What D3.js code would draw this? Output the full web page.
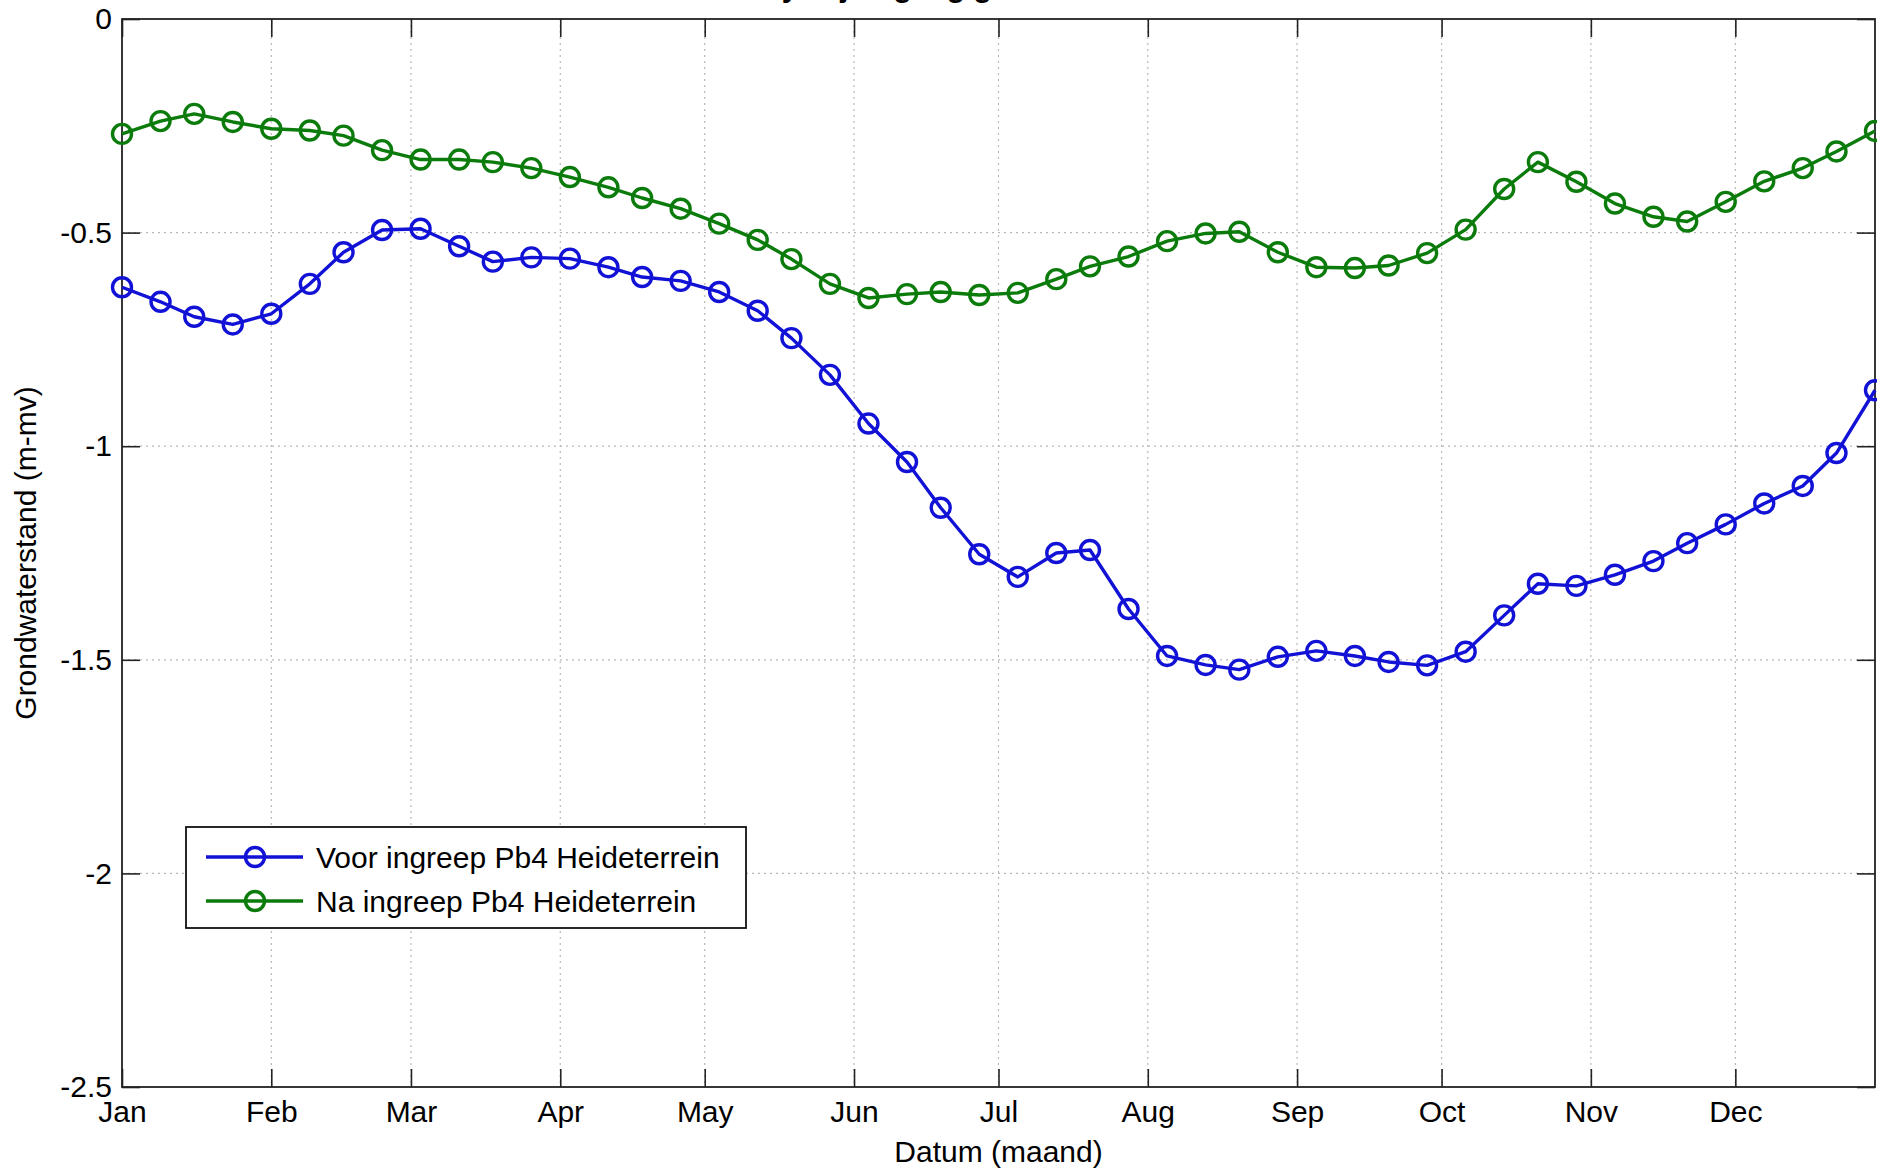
<!DOCTYPE html>
<html>
<head>
<meta charset="utf-8">
<script src="https://cdn.jsdelivr.net/npm/d3@7"></script>
<style>
  body { margin: 0; background: #fff; }
  svg { display: block; font-family: "Liberation Sans", Arial, sans-serif; }
</style>
</head>
<body>
<div id="chart"></div>
<script>
// dagnummer (vanaf 1 jan 2012) van elk meetpunt
const dagen = [0, 8, 15, 23, 31, 39, 46, 54, 62, 70, 77, 85, 93, 101, 108, 116, 124, 132, 139, 147, 155, 163, 170, 178,
    186, 194, 201, 209, 217, 225, 232, 240, 248, 256, 263, 271, 279, 287, 294, 302, 310, 318, 325, 333, 341, 349, 356, 364];

const voorIngreep = [-0.628, -0.662, -0.697, -0.715, -0.690, -0.620, -0.546, -0.494, -0.491, -0.532, -0.568, -0.558,
    -0.561, -0.581, -0.604, -0.613, -0.639, -0.683, -0.747, -0.833, -0.947, -1.037, -1.144, -1.253,
    -1.306, -1.250, -1.243, -1.381, -1.491, -1.512, -1.523, -1.493, -1.479, -1.491, -1.505, -1.513,
    -1.481, -1.396, -1.322, -1.327, -1.301, -1.269, -1.227, -1.183, -1.134, -1.093, -1.016, -0.869];

const naIngreep = [-0.269, -0.239, -0.222, -0.241, -0.257, -0.261, -0.273, -0.307, -0.329, -0.329, -0.335, -0.349,
    -0.370, -0.394, -0.419, -0.444, -0.479, -0.517, -0.562, -0.620, -0.653, -0.644, -0.639, -0.646,
    -0.641, -0.609, -0.579, -0.556, -0.520, -0.502, -0.498, -0.546, -0.581, -0.583, -0.577, -0.548,
    -0.493, -0.398, -0.335, -0.381, -0.432, -0.463, -0.474, -0.428, -0.380, -0.349, -0.310, -0.262];

const yTicks = [0, -0.5, -1, -1.5, -2, -2.5];

const series = [
    { name: "Voor ingreep Pb4 Heideterrein", values: voorIngreep, color: "#1212d6" },
    { name: "Na ingreep Pb4 Heideterrein", values: naIngreep, color: "#0b7b0b" }
];

const width = 1877;
const height = 1173;
const margin = { top: 19, right: 2, bottom: 86, left: 122 };
const fontSize = 30;
const tickLen = 18;

const start = new Date(Date.UTC(2012, 0, 1));
const toDate = d => d3.utcDay.offset(start, d);

const x = d3.scaleUtc()
    .domain([start, new Date(Date.UTC(2012, 11, 30))])
    .range([margin.left, width - margin.right]);

const y = d3.scaleLinear()
    .domain([-2.5, 0])
    .range([height - margin.bottom, margin.top]);

const monthTicks = x.ticks(d3.utcMonth.every(1));

const svg = d3.select("#chart")
    .append("svg")
    .attr("width", width)
    .attr("height", height)
    .attr("viewBox", [0, 0, width, height]);

// titel valt grotendeels buiten beeld
svg.append("text")
    .attr("x", (margin.left + width - margin.right) / 2)
    .attr("y", -3)
    .attr("text-anchor", "middle")
    .attr("font-size", fontSize)
    .attr("font-weight", "bold")
    .text("Analyse jaargang grondwaterstand Pb4");

// grid (dotted)
const grid = svg.append("g")
    .attr("stroke", "#b8b8b8")
    .attr("stroke-width", 1.2)
    .attr("stroke-dasharray", "2,4");

grid.selectAll("line.gx")
    .data(monthTicks.slice(1))
    .join("line")
    .attr("class", "gx")
    .attr("x1", d => x(d)).attr("x2", d => x(d))
    .attr("y1", y(0)).attr("y2", y(-2.5));

grid.selectAll("line.gy")
    .data(yTicks.slice(1, -1))
    .join("line")
    .attr("class", "gy")
    .attr("x1", x.range()[0]).attr("x2", x.range()[1])
    .attr("y1", d => y(d)).attr("y2", d => y(d));

// axes, inward ticks on all four sides like matlab
const xAxisBottom = g => g
    .attr("transform", `translate(0, ${y(-2.5)})`)
    .call(d3.axisBottom(x).tickValues(monthTicks).tickFormat(d3.utcFormat("%b")).tickSizeInner(-tickLen).tickSizeOuter(0).tickPadding(14))
    .call(g => g.select(".domain").remove());

const xAxisTop = g => g
    .attr("transform", `translate(0, ${y(0)})`)
    .call(d3.axisTop(x).tickValues(monthTicks).tickFormat("").tickSizeInner(-tickLen).tickSizeOuter(0))
    .call(g => g.select(".domain").remove());

const yAxisLeft = g => g
    .attr("transform", `translate(${x.range()[0]}, 0)`)
    .call(d3.axisLeft(y).tickValues(yTicks).tickFormat(d => String(d)).tickSizeInner(-tickLen).tickSizeOuter(0).tickPadding(10))
    .call(g => g.select(".domain").remove());

const yAxisRight = g => g
    .attr("transform", `translate(${x.range()[1]}, 0)`)
    .call(d3.axisRight(y).tickValues(yTicks).tickFormat("").tickSizeInner(-tickLen).tickSizeOuter(0))
    .call(g => g.select(".domain").remove());

[xAxisBottom, xAxisTop, yAxisLeft, yAxisRight].forEach(ax => {
    svg.append("g")
        .call(ax)
        .attr("font-family", "Liberation Sans, Arial, sans-serif")
        .attr("font-size", fontSize)
        .call(g => g.selectAll("line").attr("stroke", "#222").attr("stroke-width", 1.6))
        .call(g => g.selectAll("text").attr("fill", "#000"));
});

// box
svg.append("rect")
    .attr("x", x.range()[0])
    .attr("y", y(0))
    .attr("width", x.range()[1] - x.range()[0])
    .attr("height", y(-2.5) - y(0))
    .attr("fill", "none")
    .attr("stroke", "#222")
    .attr("stroke-width", 1.8);

// lijnen met open cirkels
const line = d3.line()
    .x((d, i) => x(toDate(dagen[i])))
    .y(d => y(d));

series.forEach(s => {
    svg.append("path")
        .datum(s.values)
        .attr("fill", "none")
        .attr("stroke", s.color)
        .attr("stroke-width", 3.4)
        .attr("stroke-linejoin", "round")
        .attr("d", line);

    svg.append("g")
        .selectAll("circle")
        .data(s.values)
        .join("circle")
        .attr("cx", (d, i) => x(toDate(dagen[i])))
        .attr("cy", d => y(d))
        .attr("r", 9.5)
        .attr("fill", "none")
        .attr("stroke", s.color)
        .attr("stroke-width", 3.4);
});

// as-titels
svg.append("text")
    .attr("x", (x.range()[0] + x.range()[1]) / 2)
    .attr("y", 1162)
    .attr("text-anchor", "middle")
    .attr("font-size", fontSize)
    .text("Datum (maand)");

svg.append("text")
    .attr("transform", `translate(36, ${(y(0) + y(-2.5)) / 2}) rotate(-90)`)
    .attr("text-anchor", "middle")
    .attr("font-size", fontSize)
    .text("Grondwaterstand (m-mv)");

// legenda
const legend = svg.append("g").attr("transform", "translate(186, 827)");

legend.append("rect")
    .attr("width", 560)
    .attr("height", 101)
    .attr("fill", "#fff")
    .attr("stroke", "#111")
    .attr("stroke-width", 1.8);

const item = legend.selectAll("g.item")
    .data(series)
    .join("g")
    .attr("class", "item")
    .attr("transform", (d, i) => `translate(0, ${30 + i * 44})`);

item.append("line")
    .attr("x1", 20).attr("x2", 117)
    .attr("stroke", d => d.color)
    .attr("stroke-width", 3.4);

item.append("circle")
    .attr("cx", 69)
    .attr("r", 9.5)
    .attr("fill", "none")
    .attr("stroke", d => d.color)
    .attr("stroke-width", 3.4);

item.append("text")
    .attr("x", 130)
    .attr("dy", "0.36em")
    .attr("font-size", fontSize)
    .text(d => d.name);
</script>
</body>
</html>
